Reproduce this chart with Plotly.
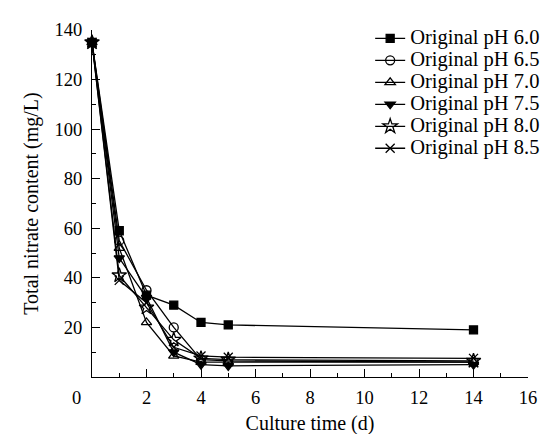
import plotly.graph_objects as go

days = [0, 1, 2, 3, 4, 5, 14]
ph60 = [135, 59, 33, 29, 22, 21, 19]
ph65 = [135, 55, 35, 20, 7, 6.5, 6]
ph70 = [135, 52, 22, 8.5, 6, 6, 6]
ph75 = [135, 48, 32, 10, 5, 4.5, 5]
ph80 = [135, 41, 28, 15, 7.5, 7, 6.5]
ph85 = [135, 39, 30, 12, 8.5, 8, 7.5]

names = ["Original pH 6.0", "Original pH 6.5", "Original pH 7.0",
         "Original pH 7.5", "Original pH 8.0", "Original pH 8.5"]
series = [ph60, ph65, ph70, ph75, ph80, ph85]
symbols = ["square", "circle-open", "triangle-up-open", "triangle-down",
           "star-open", "x-thin-open"]
sizes = [8, 9, 9, 9, 11, 9]

x_ticks = [2, 4, 6, 8, 10, 12, 14, 16]
y_ticks = [20, 40, 60, 80, 100, 120, 140]

FONT = "Liberation Serif"

fig = go.Figure()
for name, ys, sym, sz in zip(names, series, symbols, sizes):
    fig.add_trace(go.Scatter(
        x=days, y=ys, mode="lines+markers",
        name='<span style="font-size:20.5px">' + name + "</span>",
        line=dict(color="black", width=1.3),
        marker=dict(symbol=sym, size=sz, color="black",
                    line=dict(color="black", width=1.3)),
        cliponaxis=False,
    ))

fig.add_annotation(x=0, y=0, xref="x", yref="paper", text="0",
                   showarrow=False, xshift=-16, yshift=-21, yanchor="middle",
                   font=dict(family=FONT, size=18.5, color="black"))

fig.update_layout(
    width=549, height=434,
    margin=dict(l=84, r=12, t=16, b=64),
    plot_bgcolor="white", paper_bgcolor="white",
    font=dict(family=FONT, size=18.5, color="black"),
    showlegend=True,
    legend=dict(x=0.638, y=1.022, xanchor="left", yanchor="top",
                bgcolor="rgba(0,0,0,0)", font=dict(size=14.6, family=FONT),
                tracegroupgap=0),
    xaxis=dict(range=[0, 16], tickvals=x_ticks, ticks="inside", ticklen=8,
               tickwidth=1.2, tickcolor="black", showline=True,
               linecolor="black", linewidth=1.3, showgrid=False, zeroline=False,
               ticklabelstandoff=4,
               minor=dict(dtick=1, ticks="inside", ticklen=4, tickcolor="black",
                          tickwidth=1.2, showgrid=False),
               title=dict(text="Culture time (d)", standoff=8,
                          font=dict(size=20)),
               tickfont=dict(size=18.5)),
    yaxis=dict(range=[0, 140], tickvals=y_ticks, ticks="inside", ticklen=8,
               tickwidth=1.2, tickcolor="black", showline=True,
               linecolor="black", linewidth=1.3, showgrid=False, zeroline=False,
               ticklabelstandoff=5,
               minor=dict(dtick=10, ticks="inside", ticklen=4, tickcolor="black",
                          tickwidth=1.2, showgrid=False),
               title=dict(text="Total nitrate content (mg/L)", standoff=10,
                          font=dict(size=20)),
               tickfont=dict(size=18.5)),
)

fig.write_html("out.html")
